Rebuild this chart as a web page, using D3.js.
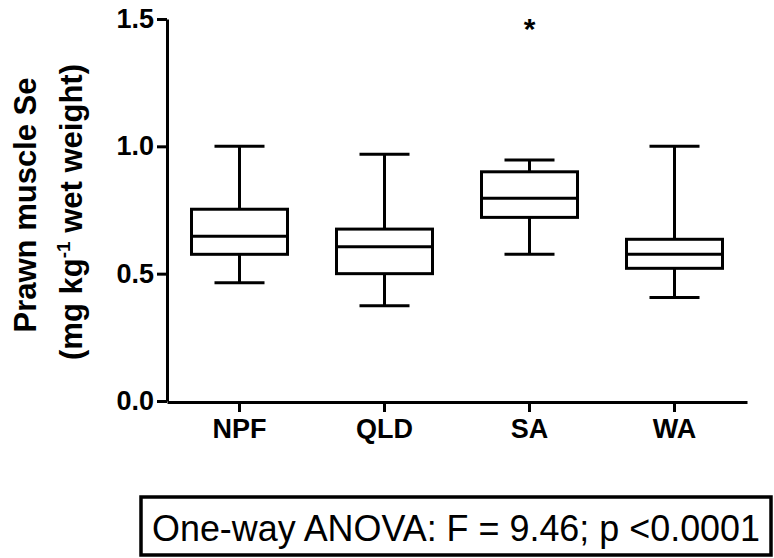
<!DOCTYPE html>
<html>
<head>
<meta charset="utf-8">
<script src="https://cdn.jsdelivr.net/npm/d3@7"></script>
<style>
  html, body { margin: 0; padding: 0; background: #fff; }
  svg { display: block; }
  text { font-family: "Liberation Sans", Arial, sans-serif; fill: #000; }
</style>
</head>
<body>
<svg id="chart" width="774" height="558"></svg>
<script>
// ---- data ----
const categories = ["NPF", "QLD", "SA", "WA"];
const whiskerMin = [0.464, 0.374, 0.576, 0.406];
const q1         = [0.576, 0.500, 0.721, 0.521];
const median     = [0.647, 0.606, 0.796, 0.576];
const q3         = [0.753, 0.675, 0.900, 0.635];
const whiskerMax = [1.000, 0.969, 0.946, 1.000];
const significanceMarks = [{ category: "SA", value: 1.50, label: "*" }];
const yTicks = [0.0, 0.5, 1.0, 1.5];
const yTitleLine1 = "Prawn muscle Se";
const statText = "One-way ANOVA: F = 9.46; p <0.0001";

const boxes = categories.map((c, i) => ({
  cat: c, min: whiskerMin[i], q1: q1[i], med: median[i], q3: q3[i], max: whiskerMax[i]
}));

const svg = d3.select("#chart");
const x = d3.scaleBand().domain(categories).range([167, 747]).paddingInner(0).paddingOuter(0);
const y = d3.scaleLinear().domain([0, 1.5]).range([401, 19]);

const boxW = 96, capW = 50, sw = 3;

// y axis
const yAxis = svg.append("g").attr("transform", "translate(167,0)")
  .call(d3.axisLeft(y).tickValues(yTicks).tickFormat(d3.format(".1f")).tickSize(10).tickSizeOuter(0).tickPadding(3));
yAxis.select(".domain").attr("stroke", "#000").attr("stroke-width", sw);
yAxis.selectAll(".tick line").attr("stroke", "#000").attr("stroke-width", sw);
yAxis.selectAll(".tick text").attr("font-size", 27).attr("font-weight", "bold")
  .attr("font-family", "Liberation Sans, Arial, sans-serif").attr("fill", "#000");

// x axis
const xAxis = svg.append("g").attr("transform", "translate(0,402)")
  .call(d3.axisBottom(x).tickSize(10).tickSizeOuter(0).tickPadding(7));
xAxis.select(".domain").attr("stroke", "#000").attr("stroke-width", sw);
xAxis.selectAll(".tick line").attr("stroke", "#000").attr("stroke-width", sw);
xAxis.selectAll(".tick text").attr("font-size", 27).attr("font-weight", "bold")
  .attr("font-family", "Liberation Sans, Arial, sans-serif").attr("fill", "#000");

// boxes
const g = svg.append("g").attr("stroke", "#000").attr("stroke-width", sw).attr("fill", "none");
boxes.forEach(b => {
  const cx = x(b.cat) + x.bandwidth() / 2;
  g.append("line").attr("x1", cx).attr("x2", cx).attr("y1", y(b.max)).attr("y2", y(b.q3));
  g.append("line").attr("x1", cx).attr("x2", cx).attr("y1", y(b.q1)).attr("y2", y(b.min));
  g.append("line").attr("x1", cx - capW / 2).attr("x2", cx + capW / 2).attr("y1", y(b.max)).attr("y2", y(b.max));
  g.append("line").attr("x1", cx - capW / 2).attr("x2", cx + capW / 2).attr("y1", y(b.min)).attr("y2", y(b.min));
  g.append("rect").attr("x", cx - boxW / 2).attr("y", y(b.q3)).attr("width", boxW).attr("height", y(b.q1) - y(b.q3));
  g.append("line").attr("x1", cx - boxW / 2).attr("x2", cx + boxW / 2).attr("y1", y(b.med)).attr("y2", y(b.med));
});

// significance marks
significanceMarks.forEach(m => {
  svg.append("text").attr("x", x(m.category) + x.bandwidth() / 2).attr("y", y(m.value))
    .attr("text-anchor", "middle").attr("dominant-baseline", "central")
    .attr("font-size", 30).attr("font-weight", "bold").attr("dy", "0.3em").text(m.label);
});

// y title
const yt = svg.append("text").attr("transform", "translate(36,205) rotate(-90)")
  .attr("text-anchor", "middle").attr("font-size", 31).attr("font-weight", "bold");
yt.append("tspan").attr("x", 0).attr("y", 0).text(yTitleLine1);
const yt2 = svg.append("text").attr("transform", "translate(82,212) rotate(-90)")
  .attr("text-anchor", "middle").attr("font-size", 31).attr("font-weight", "bold");
yt2.append("tspan").text("(mg kg");
yt2.append("tspan").attr("font-size", 19).attr("dy", -12).text("-1");
yt2.append("tspan").attr("dy", 12).text(" wet weight)");

// stats box
svg.append("rect").attr("x", 141).attr("y", 497).attr("width", 630).attr("height", 58)
  .attr("fill", "#fff").attr("stroke", "#000").attr("stroke-width", 3.5);
svg.append("text").attr("x", 152).attr("y", 541).attr("font-size", 36).attr("textLength", 608)
  .attr("lengthAdjust", "spacingAndGlyphs").text(statText);
</script>
</body>
</html>
